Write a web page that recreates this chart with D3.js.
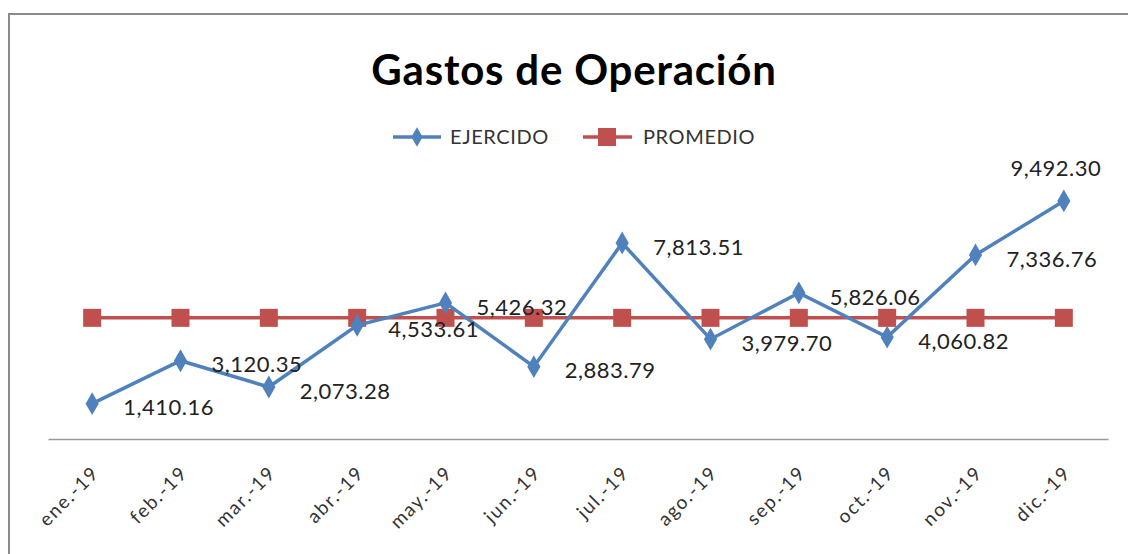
<!DOCTYPE html>
<html><head><meta charset="utf-8">
<script src="https://cdn.jsdelivr.net/npm/d3@7"></script>
<style>html,body{margin:0;padding:0;background:#fff;}svg{display:block;}</style>
</head><body>
<svg id="chart" width="1128" height="554"></svg>
<script>
const categories = ["ene.-19","feb.-19","mar.-19","abr.-19","may.-19","jun.-19","jul.-19","ago.-19","sep.-19","oct.-19","nov.-19","dic.-19"];
const ejercido = [1410.16, 3120.35, 2073.28, 4533.61, 5426.32, 2883.79, 7813.51, 3979.70, 5826.06, 4060.82, 7336.76, 9492.30];
const promedio = [4829.72, 4829.72, 4829.72, 4829.72, 4829.72, 4829.72, 4829.72, 4829.72, 4829.72, 4829.72, 4829.72, 4829.72];
const seriesNames = ["EJERCIDO", "PROMEDIO"];
const title = "Gastos de Operación";
// label placement (style): "r" right of point, "t" above
const labelPlace = ["r","r","r","r","r","r","r","r","r","r","r","t"];

const blue = "#4F81BD", red = "#C0504D";
const font = "Lato, 'Open Sans', sans-serif";
const svg = d3.select("#chart");

// outer border
svg.append("rect").attr("x",9).attr("y",14).attr("width",1140).attr("height",600)
  .attr("fill","none").attr("stroke","#8a8a8a").attr("stroke-width",2);

const x = d3.scaleBand().domain(categories).range([48,1108]);
const y = d3.scaleLinear().domain([0,12000]).range([439,138]);
const cx = d => x(d) + x.bandwidth()/2;

// title
svg.append("text").attr("x",574).attr("y",85).attr("text-anchor","middle")
  .attr("font-family",font).attr("font-weight","bold").attr("font-size",42)
  .attr("letter-spacing",0.8).attr("fill","#000")
  .text(title);

// axis
const xAxis = d3.axisBottom(x).tickSize(0).tickSizeOuter(0);
const gx = svg.append("g").attr("transform","translate(0,439)").call(xAxis);
gx.select(".domain").attr("stroke","#9a9a9a").attr("stroke-width",1.5);
gx.selectAll(".tick text").attr("font-family",font).attr("font-size",19).attr("fill","#333")
  .attr("letter-spacing",1.6)
  .attr("text-anchor","end").attr("dy",0)
  .attr("transform","translate(6,33) rotate(-45)");

const line = d3.line().x((d,i)=>cx(categories[i])).y(d=>y(d));

// promedio
svg.append("path").datum(promedio).attr("d",line).attr("fill","none")
  .attr("stroke",red).attr("stroke-width",3.5);
svg.append("g").selectAll("rect").data(promedio).join("rect")
  .attr("x",(d,i)=>cx(categories[i])-9).attr("y",d=>y(d)-9)
  .attr("width",18).attr("height",18).attr("fill",red);

// ejercido
svg.append("path").datum(ejercido).attr("d",line).attr("fill","none")
  .attr("stroke",blue).attr("stroke-width",3.5);
const diamond = d3.symbol().type(d3.symbolDiamond).size(150);
svg.append("g").selectAll("path").data(ejercido).join("path")
  .attr("d",diamond)
  .attr("transform",(d,i)=>`translate(${cx(categories[i])},${y(d)})`)
  .attr("fill",blue);

// data labels
const fmt = d3.format(",.2f");
svg.append("g").selectAll("text").data(ejercido).join("text")
  .attr("x",(d,i)=> labelPlace[i]==="t" ? cx(categories[i]) - 8 : cx(categories[i]) + 31)
  .attr("y",(d,i)=> labelPlace[i]==="t" ? y(d) - 25 : y(d) + 4)
  .attr("dy", (d,i)=> labelPlace[i]==="t" ? 0 : "0.35em")
  .attr("text-anchor",(d,i)=> labelPlace[i]==="t" ? "middle" : "start")
  .attr("font-family",font).attr("font-size",22).attr("letter-spacing",0.5).attr("fill","#222")
  .text(d=>fmt(d));

// legend
const lg = svg.append("g");
lg.append("line").attr("x1",393).attr("x2",441).attr("y1",137).attr("y2",137).attr("stroke",blue).attr("stroke-width",3.5);
lg.append("path").attr("d",d3.symbol().type(d3.symbolDiamond).size(110)).attr("transform","translate(417,137)").attr("fill",blue);
lg.append("text").attr("x",450).attr("y",137).attr("dy","0.35em").attr("font-family",font).attr("font-size",20).attr("letter-spacing",0.6).attr("fill","#333").text(seriesNames[0]);
lg.append("line").attr("x1",583).attr("x2",632).attr("y1",137).attr("y2",137).attr("stroke",red).attr("stroke-width",3.5);
lg.append("rect").attr("x",598).attr("y",128).attr("width",18).attr("height",18).attr("fill",red);
lg.append("text").attr("x",643).attr("y",137).attr("dy","0.35em").attr("font-family",font).attr("font-size",20).attr("letter-spacing",0.6).attr("fill","#333").text(seriesNames[1]);
</script>
</body></html>
